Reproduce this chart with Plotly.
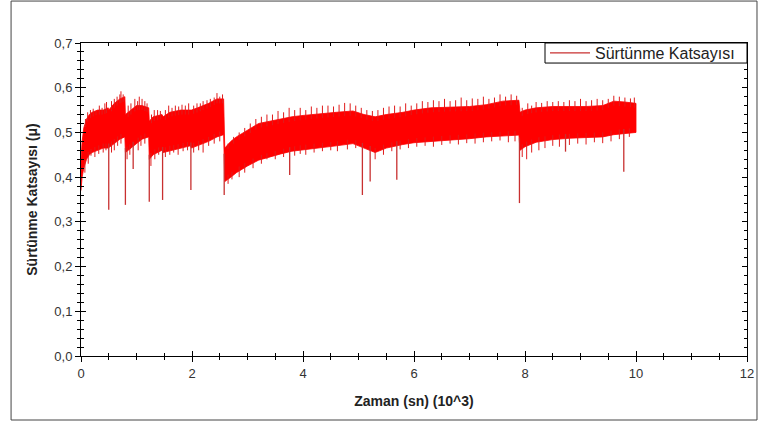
import numpy as np
import plotly.graph_objects as go

# ---- data ----
# time in 10^3 s, band envelope of the friction coefficient signal
band_t = [0.0, 0.02, 0.05, 0.1, 0.15, 0.2, 0.3, 0.4, 0.49,
          0.5, 0.6, 0.7, 0.79,
          0.80, 0.9, 1.0, 1.1, 1.22,
          1.23, 1.3, 1.46,
          1.48, 1.6, 1.8, 1.97,
          1.99, 2.1, 2.3, 2.45, 2.57,
          2.59, 2.7, 2.8, 3.0, 3.2, 3.4, 3.6, 3.8, 4.0, 4.3, 4.6, 4.9, 5.1, 5.3, 5.5,
          5.8, 6.0, 6.3, 6.6, 7.0, 7.3, 7.6, 7.89,
          7.91, 8.0, 8.2, 8.5, 8.8, 9.1, 9.4, 9.6, 9.8, 10.0]
band_upper = [0.44, 0.48, 0.51, 0.53, 0.54, 0.545, 0.55, 0.55, 0.555,
              0.55, 0.565, 0.575, 0.58,
              0.54, 0.55, 0.56, 0.56, 0.555,
              0.525, 0.535, 0.54,
              0.535, 0.545, 0.55, 0.55,
              0.55, 0.555, 0.565, 0.575, 0.575,
              0.465, 0.48, 0.49, 0.505, 0.52, 0.525, 0.53, 0.535, 0.538, 0.542, 0.545, 0.548, 0.54, 0.535, 0.54,
              0.545, 0.55, 0.555, 0.557, 0.558, 0.562, 0.57, 0.572,
              0.545, 0.55, 0.555, 0.558, 0.558, 0.558, 0.56, 0.57, 0.568, 0.565]
band_lower = [0.37, 0.40, 0.42, 0.44, 0.45, 0.455, 0.46, 0.465, 0.465,
              0.465, 0.475, 0.485, 0.49,
              0.455, 0.465, 0.475, 0.485, 0.49,
              0.44, 0.45, 0.46,
              0.455, 0.46, 0.465, 0.47,
              0.465, 0.47, 0.48, 0.49, 0.495,
              0.39, 0.40, 0.41, 0.425, 0.438, 0.445, 0.452, 0.458, 0.462, 0.466, 0.47, 0.475, 0.465, 0.455, 0.465,
              0.473, 0.477, 0.48, 0.483, 0.486, 0.49, 0.492, 0.494,
              0.46, 0.468, 0.478, 0.484, 0.487, 0.489, 0.49, 0.495, 0.498, 0.50]

# deep downward spikes (time, minimum value)
spike_t = [0.50, 0.80, 0.94, 1.23, 1.47, 1.98, 2.58, 3.76, 5.07, 5.21, 5.69, 7.90, 8.73, 9.78]
spike_min = [0.327, 0.338, 0.418, 0.345, 0.349, 0.371, 0.36, 0.405, 0.36, 0.39, 0.394, 0.342, 0.457, 0.412]

# small upward peaks above the band (time, maximum value)
peak_t = [0.08, 0.12, 0.17, 0.22, 0.27, 0.33, 0.38, 0.43, 0.46,
          0.55, 0.6, 0.65, 0.7, 0.72, 0.76,
          0.85, 0.9, 0.97, 1.02, 1.05, 1.1, 1.15, 1.19,
          1.27, 1.32, 1.38, 1.43,
          1.52, 1.58, 1.64, 1.7, 1.76, 1.82, 1.88, 1.94,
          2.03, 2.09, 2.15, 2.2, 2.27, 2.33, 2.4, 2.45, 2.5, 2.55,
          2.65, 2.75, 2.85, 2.95, 3.05, 3.15, 3.25, 3.35, 3.45, 3.55, 3.65, 3.75, 3.85, 3.95,
          4.05, 4.15, 4.25, 4.35, 4.45, 4.55, 4.65, 4.75, 4.85, 4.95, 5.05, 5.15, 5.25, 5.35,
          5.45, 5.55, 5.65, 5.75, 5.85, 5.95, 6.05, 6.15, 6.25, 6.35, 6.45, 6.55, 6.65, 6.75,
          6.85, 6.95, 7.05, 7.15, 7.25, 7.35, 7.45, 7.55, 7.65, 7.75, 7.85,
          7.95, 8.05, 8.12, 8.2, 8.3, 8.4, 8.5, 8.6, 8.7, 8.8, 8.9, 9.0, 9.1, 9.2, 9.3, 9.4,
          9.5, 9.6, 9.7, 9.8, 9.9, 9.97]
peak_max = [0.53, 0.545, 0.55, 0.553, 0.548, 0.56, 0.555, 0.565, 0.568,
            0.57, 0.575, 0.58, 0.585, 0.592, 0.585,
            0.56, 0.565, 0.575, 0.57, 0.58, 0.575, 0.57, 0.565,
            0.54, 0.55, 0.55, 0.548,
            0.55, 0.56, 0.555, 0.56, 0.558, 0.562, 0.56, 0.565,
            0.56, 0.565, 0.565, 0.57, 0.572, 0.575, 0.578, 0.588, 0.58, 0.585,
            0.475, 0.49, 0.5, 0.51, 0.52, 0.53, 0.535, 0.54, 0.54, 0.548, 0.545, 0.555, 0.55, 0.555,
            0.55, 0.558, 0.555, 0.56, 0.56, 0.558, 0.562, 0.566, 0.565, 0.56, 0.555, 0.55, 0.548, 0.55,
            0.555, 0.558, 0.56, 0.558, 0.565, 0.56, 0.565, 0.57, 0.568, 0.572, 0.57, 0.575, 0.57, 0.572,
            0.578, 0.572, 0.576, 0.575, 0.58, 0.575, 0.578, 0.585, 0.58, 0.585, 0.582,
            0.555, 0.565, 0.56, 0.568, 0.566, 0.57, 0.568, 0.57, 0.568, 0.572, 0.57, 0.575, 0.57, 0.572,
            0.575, 0.572, 0.575, 0.582, 0.58, 0.578, 0.576, 0.578]

# small downward dips below the band (time, minimum value)
dip_t = [0.07, 0.13, 0.18, 0.25, 0.32, 0.4, 0.45,
         0.55, 0.6, 0.66, 0.72,
         0.83, 0.88, 1.03, 1.08, 1.15,
         1.26, 1.33, 1.4,
         1.52, 1.6, 1.67, 1.75, 1.84, 1.92,
         2.03, 2.12, 2.2, 2.3, 2.4, 2.5,
         2.65, 2.72, 2.85, 2.95, 3.1, 3.25, 3.35, 3.5, 3.65, 3.85, 3.95, 4.05, 4.2, 4.35, 4.5,
         4.62, 4.8, 4.95, 5.3, 5.45, 5.6, 5.75, 5.9, 6.05, 6.2, 6.35, 6.5, 6.65, 6.8, 6.95,
         7.1, 7.25, 7.4, 7.55, 7.7, 7.82,
         7.95, 8.03, 8.12, 8.25, 8.36, 8.5, 8.62, 8.8, 8.95, 9.1, 9.25, 9.4, 9.55, 9.7, 9.88]
dip_min = [0.41, 0.43, 0.448, 0.445, 0.452, 0.455, 0.46,
           0.455, 0.46, 0.47, 0.475,
           0.44, 0.45, 0.46, 0.47, 0.475,
           0.425, 0.44, 0.45,
           0.445, 0.45, 0.455, 0.45, 0.458, 0.46,
           0.455, 0.46, 0.455, 0.47, 0.475, 0.48,
           0.385, 0.395, 0.4, 0.41, 0.42, 0.43, 0.44, 0.44, 0.445, 0.448, 0.452, 0.45, 0.455, 0.458, 0.46,
           0.458, 0.462, 0.465, 0.44, 0.45, 0.458, 0.462, 0.465, 0.468, 0.47, 0.468, 0.472, 0.475, 0.473, 0.476,
           0.475, 0.478, 0.48, 0.482, 0.478, 0.48,
           0.445, 0.44, 0.455, 0.46, 0.465, 0.47, 0.468, 0.472, 0.475, 0.473, 0.478, 0.476, 0.48, 0.485, 0.49]

x_ticks = [0, 2, 4, 6, 8, 10, 12]
y_ticks = [0.0, 0.1, 0.2, 0.3, 0.4, 0.5, 0.6, 0.7]

series_name = "Sürtünme Katsayısı"
x_title = "Zaman (sn) (10^3)"
y_title = "Sürtünme Katsayısı (μ)"

# ---- build traces ----
def segments(ts, base, tips):
    xs, ys = [], []
    for t, b, tip in zip(ts, base, tips):
        xs += [t, t, None]
        ys += [b, tip, None]
    return xs, ys

sx, sy = segments(spike_t, np.interp(spike_t, band_t, band_lower) + 0.01, spike_min)
px_, py_ = segments(peak_t, np.interp(peak_t, band_t, band_upper) - 0.01, peak_max)
dx_, dy_ = segments(dip_t, np.interp(dip_t, band_t, band_lower) + 0.01, dip_min)

fig = go.Figure()
fig.add_trace(go.Scatter(
    x=band_t + band_t[::-1], y=band_upper + band_lower[::-1],
    fill="toself", fillcolor="#ff0000", mode="lines",
    line=dict(color="#ff0000", width=0.8), showlegend=False, hoverinfo="skip"))
fig.add_trace(go.Scatter(x=px_ + dx_, y=py_ + dy_, mode="lines",
                         line=dict(color="#e01c1c", width=1), showlegend=False, hoverinfo="skip"))
fig.add_trace(go.Scatter(x=sx, y=sy, mode="lines", name=series_name,
                         line=dict(color="#c83030", width=1.3), showlegend=True))
fig.add_trace(go.Scatter(x=[], y=[], xaxis="x2", yaxis="y2", showlegend=False))

font_family = "Liberation Sans, Arial, sans-serif"
inner_common = dict(showline=True, linecolor="#000", linewidth=1, mirror="allticks",
                    ticks="inside", ticklen=5, tickcolor="#000", showticklabels=False,
                    showgrid=False, zeroline=False, automargin=False)
outer_common = dict(showline=False, ticks="outside", ticklen=5, tickcolor="#000",
                    showgrid=False, zeroline=False, automargin=False,
                    tickfont=dict(size=13, color="#333", family=font_family))

# legend frame position (paper coords of the plot area)
leg_x0, leg_x1, leg_y0, leg_y1 = 0.6967, 1.0, 0.936, 1.0

fig.update_layout(
    width=759, height=423,
    margin=dict(l=81, r=12, t=43, b=67, autoexpand=False),
    paper_bgcolor="white", plot_bgcolor="white",
    separators=",.",
    font=dict(family=font_family, color="#222"),
    xaxis=dict(range=[0, 12], tickvals=x_ticks,
               minor=dict(dtick=0.5, ticks="inside", ticklen=3, tickcolor="#000"),
               **inner_common),
    yaxis=dict(range=[0, 0.7], tickvals=y_ticks,
               minor=dict(dtick=0.02, ticks="inside", ticklen=3, tickcolor="#000"),
               **inner_common),
    xaxis2=dict(overlaying="x", anchor="y2", side="bottom", range=[0, 12], tickvals=x_ticks,
                minor=dict(dtick=0.5, ticks="outside", ticklen=3, tickcolor="#000"),
                title=dict(text="<b>" + x_title + "</b>", font=dict(size=14, color="#222"), standoff=16),
                **outer_common),
    yaxis2=dict(overlaying="y", anchor="x2", side="left", range=[0, 0.7], tickvals=y_ticks,
                tickformat=".1f",
                minor=dict(dtick=0.02, ticks="outside", ticklen=3, tickcolor="#000"),
                title=dict(text="<b>" + y_title + "</b>", font=dict(size=14, color="#222"), standoff=13),
                **outer_common),
    legend=dict(x=leg_x0, xanchor="left", y=(leg_y0 + leg_y1) / 2, yanchor="middle",
                bgcolor="rgba(0,0,0,0)", borderwidth=0, itemwidth=40,
                font=dict(size=16, color="#222", family=font_family)),
    shapes=[dict(type="rect", xref="paper", yref="paper",
                 x0=-0.105, x1=1.015, y0=-0.2045, y1=1.134,
                 line=dict(color="#444", width=1)),
            dict(type="rect", xref="paper", yref="paper", layer="above",
                 x0=leg_x0, x1=leg_x1, y0=leg_y0, y1=leg_y1,
                 fillcolor="white", line=dict(color="#000", width=1))],
)

fig.write_html("out.html", config={"displayModeBar": False},
               post_script="document.body.style.margin='0';document.body.style.overflow='hidden';")
